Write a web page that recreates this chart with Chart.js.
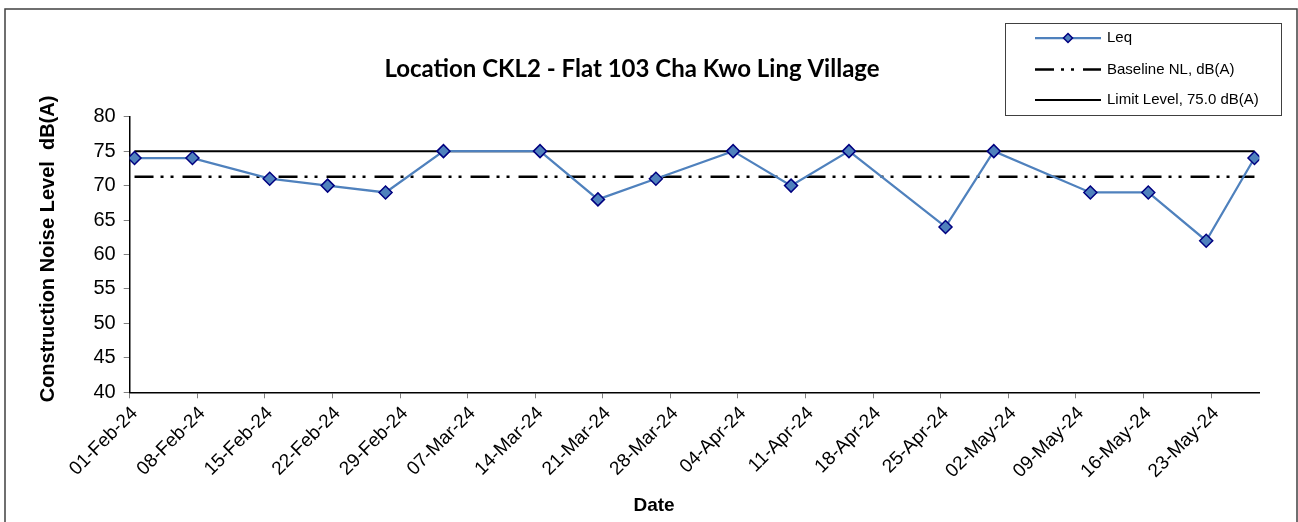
<!DOCTYPE html>
<html>
<head>
<meta charset="utf-8">
<title>Location CKL2 - Flat 103 Cha Kwo Ling Village</title>
<script src="https://cdn.jsdelivr.net/npm/chart.js@4.4.1/dist/chart.umd.min.js"></script>
<style>
    html, body { margin: 0; padding: 0; background: #fff; }
    #wrap { width: 1298px; height: 522px; }
</style>
</head>
<body>
<div id="wrap"><canvas id="noiseChart" width="1298" height="522"></canvas></div>
<script>
// Monitoring dates and measured Leq, dB(A)
const sampleDates = [
    '2024-02-01', '2024-02-07', '2024-02-15', '2024-02-21', '2024-02-27', '2024-03-04',
    '2024-03-14', '2024-03-20', '2024-03-26', '2024-04-03', '2024-04-09', '2024-04-15',
    '2024-04-25', '2024-04-30', '2024-05-10', '2024-05-16', '2024-05-22', '2024-05-27'
];
const leqValues = [74, 74, 71, 70, 69, 75, 75, 68, 71, 75, 70, 75, 64, 75, 69, 69, 62, 74];

// Reference levels
const baselineLevel = 71.3;
const limitLevel = 75.0;

// Date axis range and tick spacing (days)
const axisStart = '2024-02-01';
const axisEnd = '2024-05-28';
const tickStepDays = 7;

// Value axis
const yMin = 40;
const yMax = 80;
const yStep = 5;

const chartTitle = 'Location CKL2 - Flat 103 Cha Kwo Ling Village';
const yTitle = 'Construction Noise Level  dB(A)';
const xTitle = 'Date';
const legendLabels = ['Leq', 'Baseline NL, dB(A)', 'Limit Level, 75.0 dB(A)'];

const MONTHS = ['Jan', 'Feb', 'Mar', 'Apr', 'May', 'Jun', 'Jul', 'Aug', 'Sep', 'Oct', 'Nov', 'Dec'];
const DAY_MS = 86400000;
const startMs = new Date(axisStart).getTime();

// Day offset from axis start; Excel plots each date in the middle of its day slot
function dayOffset(dateStr) {
    return (new Date(dateStr).getTime() - startMs) / DAY_MS;
}

function formatDay(value) {
    const d = new Date(startMs + value * DAY_MS);
    const dd = String(d.getUTCDate()).padStart(2, '0');
    const yy = String(d.getUTCFullYear()).slice(2);
    return `${dd}-${MONTHS[d.getUTCMonth()]}-${yy}`;
}

const leqPoints = sampleDates.map((d, i) => ({ x: dayOffset(d) + 0.5, y: leqValues[i] }));
const firstX = leqPoints[0].x;
const lastX = leqPoints[leqPoints.length - 1].x;

const ARIAL = "'Liberation Sans', Arial, sans-serif";
const LEQ_LINE = '#4F81BD';
const LEQ_MARK_EDGE = '#000080';
const BASE_DASH = [19, 7, 3, 7, 3, 9];

// Chart area edges
const AREA = { left: 129.7, right: 1259.3, top: 116.7, bottom: 392.3 };

// Titles, border and legend box drawn straight onto the canvas
const decorPlugin = {
    id: 'decor',
    afterDraw(chart) {
        const ctx = chart.ctx;
        ctx.save();

        // outer frame
        ctx.strokeStyle = '#404040';
        ctx.lineWidth = 1.5;
        ctx.strokeRect(5, 9, 1292, 600);

        ctx.fillStyle = '#000';
        ctx.textAlign = 'center';
        ctx.textBaseline = 'alphabetic';
        ctx.font = "bold 24px Lato, 'Open Sans', sans-serif";
        ctx.fillText(chartTitle, 632, 77);

        ctx.font = `bold 19px ${ARIAL}`;
        ctx.fillText(xTitle, 654, 511);

        ctx.save();
        ctx.translate(48, 249);
        ctx.rotate(-Math.PI / 2);
        ctx.textBaseline = 'middle';
        ctx.font = `bold 20px ${ARIAL}`;
        ctx.fillText(yTitle, 0, 0);
        ctx.restore();

        // legend
        ctx.strokeStyle = '#404040';
        ctx.lineWidth = 1;
        ctx.strokeRect(1005.5, 23.5, 276, 92);

        const rows = [38, 69.5, 100];
        const x0 = 1035, x1 = 1101;

        ctx.lineCap = 'butt';
        ctx.strokeStyle = LEQ_LINE;
        ctx.lineWidth = 2.25;
        ctx.beginPath(); ctx.moveTo(x0, rows[0]); ctx.lineTo(x1, rows[0]); ctx.stroke();
        const mx = (x0 + x1) / 2, r = 4.5;
        ctx.beginPath();
        ctx.moveTo(mx, rows[0] - r); ctx.lineTo(mx + r, rows[0]);
        ctx.lineTo(mx, rows[0] + r); ctx.lineTo(mx - r, rows[0]); ctx.closePath();
        ctx.fillStyle = LEQ_LINE; ctx.fill();
        ctx.strokeStyle = LEQ_MARK_EDGE; ctx.lineWidth = 1.5; ctx.stroke();

        ctx.strokeStyle = '#000';
        ctx.lineWidth = 2.5;
        ctx.setLineDash(BASE_DASH);
        ctx.beginPath(); ctx.moveTo(x0, rows[1]); ctx.lineTo(x1, rows[1]); ctx.stroke();
        ctx.setLineDash([]);
        ctx.lineWidth = 2;
        ctx.beginPath(); ctx.moveTo(x0, rows[2]); ctx.lineTo(x1, rows[2]); ctx.stroke();

        ctx.fillStyle = '#000';
        ctx.textAlign = 'left';
        ctx.textBaseline = 'middle';
        ctx.font = `15px ${ARIAL}`;
        legendLabels.forEach((t, i) => ctx.fillText(t, 1107, rows[i]));

        ctx.restore();
    }
};

const ctx = document.getElementById('noiseChart').getContext('2d');
new Chart(ctx, {
    type: 'line',
    data: {
        datasets: [
            {
                label: legendLabels[0],
                data: leqPoints,
                borderColor: LEQ_LINE,
                borderWidth: 2.25,
                backgroundColor: LEQ_LINE,
                pointStyle: 'rectRot',
                pointRadius: 6.5,
                pointBorderColor: LEQ_MARK_EDGE,
                pointBorderWidth: 1.5,
                pointBackgroundColor: LEQ_LINE,
                tension: 0
            },
            {
                label: legendLabels[1],
                data: [{ x: firstX, y: baselineLevel }, { x: lastX, y: baselineLevel }],
                borderColor: '#000',
                borderWidth: 2.5,
                borderDash: BASE_DASH,
                pointRadius: 0
            },
            {
                label: legendLabels[2],
                data: [{ x: firstX, y: limitLevel }, { x: lastX, y: limitLevel }],
                borderColor: '#000',
                borderWidth: 2,
                pointRadius: 0
            }
        ]
    },
    options: {
        responsive: false,
        animation: false,
        layout: {
            padding: { top: AREA.top, right: 1298 - AREA.right, bottom: 0, left: 0 }
        },
        plugins: {
            legend: { display: false },
            tooltip: { enabled: false }
        },
        scales: {
            x: {
                type: 'linear',
                position: 'bottom',
                min: 0,
                max: dayOffset(axisEnd),
                afterFit: s => { s.height = 522 - AREA.bottom; },
                ticks: {
                    stepSize: tickStepDays,
                    includeBounds: false,
                    autoSkip: false,
                    minRotation: 45,
                    maxRotation: 45,
                    padding: 4,
                    labelOffset: 5,
                    color: '#000',
                    font: { family: ARIAL, size: 19 },
                    callback: v => formatDay(v)
                },
                grid: { drawOnChartArea: false, drawTicks: true, tickLength: 6, color: '#808080' },
                border: { color: '#000', width: 1.5 }
            },
            y: {
                min: yMin,
                max: yMax,
                afterFit: s => { s.width = AREA.left; },
                ticks: {
                    stepSize: yStep,
                    padding: 8,
                    color: '#000',
                    font: { family: ARIAL, size: 20 }
                },
                grid: { drawOnChartArea: false, drawTicks: true, tickLength: 6, color: '#808080' },
                border: { color: '#000', width: 1.5 }
            }
        }
    },
    plugins: [decorPlugin]
});
</script>
</body>
</html>
